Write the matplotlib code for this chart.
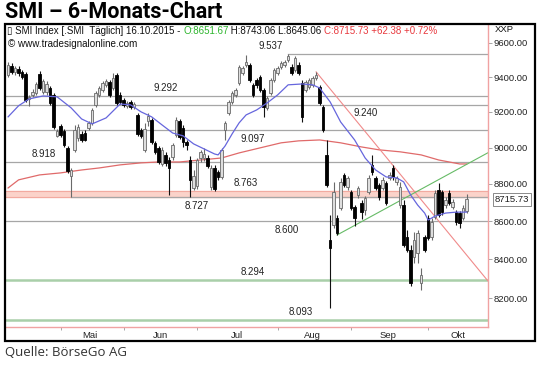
import numpy as np
import matplotlib
matplotlib.use('Agg')
import matplotlib.pyplot as plt
from matplotlib.patches import Rectangle
from matplotlib.ticker import FixedLocator, NullLocator, FuncFormatter

#---------------------------------------------------------------------------------
# SMI daily candles, last 6 months up to 16.10.2015
# index = trading day, 0 = mid April, 131 = 16.10.2015
#---------------------------------------------------------------------------------

opens = [9412, 9465, 9430, 9447, 9430, 9418, 9274, 9297, 9308, 9418,
         9314, 9314, 9337, 9297, 9065, 9121, 9093, 8998, 8844, 8987,
         9053, 9076, 9081, 9110, 9138, 9240, 9297, 9326, 9355, 9372,
         9337, 9412, 9297, 9268, 9234, 9257, 9228, 9183, 9098, 8987,
         9149, 9155, 9026, 8998, 8909, 8959, 8931, 8948, 9070, 9149,
         9110, 9031, 8931, 8778, 8789, 8942, 8942, 8942, 8784, 8887,
         8865, 8838, 9098, 9194, 9257, 9297, 9366, 9424, 9471, 9471,
         9355, 9383, 9401, 9326, 9223, 9308, 9383, 9424, 9459, 9471,
         9500, 9459, 9442, 9471, 9366, 9326, 9343, 9355, 9395, 9343,
         9228, 8959, 8501, 8579, 8616, 8670, 8849, 8784, 8757, 8676,
         8740, 8697, 8659, 8757, 8904, 8833, 8795, 8778, 8805, 8833,
         8887, 8811, 8686, 8686, 8516, 8448, 8412, 8433, 8279, 8516,
         8616, 8516, 8622, 8767, 8757, 8686, 8751, 8676, 8648, 8643,
         8616, 8651.67]
highs = [9488, 9482, 9465, 9465, 9442, 9430, 9297, 9332, 9372, 9436,
         9389, 9378, 9349, 9308, 9104, 9132, 9104, 9009, 8887, 9126,
         9132, 9093, 9098, 9149, 9223, 9320, 9349, 9378, 9389, 9383,
         9424, 9424, 9314, 9280, 9262, 9268, 9257, 9194, 9110, 9138,
         9194, 9166, 9037, 9009, 9003, 8976, 8948, 9026, 9172, 9160,
         9126, 9042, 8953, 8876, 8942, 8987, 8998, 8959, 8904, 8904,
         8876, 8998, 9149, 9268, 9320, 9337, 9471, 9465, 9529, 9482,
         9366, 9395, 9412, 9337, 9291, 9395, 9453, 9465, 9494, 9500,
         9537, 9477, 9524, 9488, 9383, 9383, 9395, 9407, 9430, 9355,
         9240, 9042, 8632, 8811, 8632, 8833, 8860, 8844, 8767, 8686,
         8789, 8713, 8735, 8849, 8959, 8844, 8805, 8838, 8816, 8865,
         8904, 8844, 8811, 8713, 8553, 8475, 8542, 8553, 8355, 8527,
         8632, 8616, 8767, 8805, 8767, 8729, 8767, 8719, 8659, 8654,
         8686, 8743.06]
lows = [9401, 9418, 9412, 9407, 9389, 9257, 9234, 9286, 9297, 9326,
        9303, 9297, 9240, 9104, 9059, 9059, 9003, 8860, 8727, 8976,
        9037, 9031, 9037, 9098, 9126, 9228, 9286, 9314, 9343, 9286,
        9326, 9240, 9245, 9228, 9223, 9217, 9217, 9065, 9053, 8976,
        9121, 9020, 8964, 8909, 8898, 8898, 8740, 8931, 9059, 9048,
        9003, 8987, 8729, 8767, 8773, 8920, 8925, 8887, 8767, 8762,
        8822, 8827, 9042, 9183, 9245, 9286, 9355, 9412, 9459, 9372,
        9286, 9337, 9314, 9172, 9211, 9297, 9372, 9412, 9447, 9459,
        9488, 9412, 9430, 9412, 9143, 9314, 9332, 9343, 9383, 9240,
        9087, 8784, 8153, 8563, 8527, 8659, 8784, 8767, 8659, 8574,
        8724, 8611, 8632, 8746, 8849, 8767, 8713, 8767, 8686, 8822,
        8822, 8795, 8670, 8464, 8438, 8264, 8381, 8381, 8244, 8438,
        8501, 8501, 8611, 8622, 8632, 8670, 8686, 8665, 8579, 8563,
        8606, 8645.06]
closes = [9471, 9430, 9453, 9424, 9401, 9268, 9286, 9314, 9360, 9337,
          9378, 9360, 9251, 9115, 9093, 9070, 9014, 8871, 8876, 9098,
          9115, 9042, 9042, 9138, 9211, 9308, 9337, 9366, 9378, 9297,
          9395, 9251, 9257, 9240, 9251, 9228, 9245, 9076, 9065, 9104,
          9177, 9031, 8976, 8920, 8987, 8915, 8887, 9014, 9155, 9059,
          9031, 9014, 8822, 8844, 8931, 8976, 8964, 8898, 8887, 8773,
          8838, 8987, 9138, 9257, 9308, 9326, 9459, 9453, 9488, 9383,
          9297, 9355, 9326, 9228, 9280, 9383, 9442, 9453, 9482, 9488,
          9524, 9424, 9512, 9424, 9172, 9372, 9383, 9395, 9412, 9251,
          9098, 8795, 8459, 8757, 8537, 8811, 8795, 8833, 8670, 8616,
          8778, 8648, 8724, 8833, 8865, 8778, 8729, 8822, 8697, 8849,
          8838, 8833, 8784, 8475, 8448, 8279, 8501, 8537, 8320, 8448,
          8511, 8595, 8751, 8632, 8648, 8713, 8697, 8702, 8595, 8590,
          8670, 8715.73]

# short moving average (blue) and long moving average (red), read at some days
blue_idx = [0, 3, 6, 10, 14, 18, 21, 24, 28, 32, 35, 38, 41, 44, 47, 50, 53, 56, 59, 60,
            62, 64, 66, 68, 71, 74, 77, 80, 84, 87, 89, 92, 95, 99, 102, 105, 108, 111, 113, 115,
            117, 119, 120, 122, 125, 128, 131]
blue_val = [9172, 9235, 9274, 9291, 9286, 9223, 9160, 9132, 9166, 9245, 9240, 9200, 9172, 9126, 9081, 9065, 9020, 8992, 8964, 8959,
            9009, 9076, 9138, 9183, 9211, 9251, 9297, 9355, 9360, 9355, 9337, 9257, 9143, 9042, 8942, 8876, 8838, 8833, 8811, 8740,
            8686, 8643, 8606, 8627, 8643, 8648, 8648]
red_idx = [0, 3, 9, 15, 21, 26, 32, 38, 43, 49, 55, 61, 66, 72, 78, 83, 89, 95, 101, 106, 112, 118, 123, 129, 131]
red_val = [8778, 8822, 8849, 8860, 8876, 8887, 8904, 8915, 8920, 8920, 8931, 8942, 8970, 8998, 9026, 9037, 9042, 9026,
           9003, 8987, 8976, 8959, 8931, 8909, 8909]

# trend lines (start day, end day) / (start value, end value)
down_trend_idx = [88, 137]
down_trend_val = [9430, 8290]
up_trend_idx = [94, 137]
up_trend_val = [8527, 8970]

# support / resistance levels
levels = [9537, 9292, 9240, 9097, 8918, 8763, 8727, 8600, 8294, 8093]
level_from = [80, 0, 0, 0, 0, 0, 18, 0, 0, 0]
level_label_at = [74.9, 45.1, 102, 70, 10.3, 68, 54, 79.7, 70, 83.7]
level_label_above = [True, True, False, False, True, True, False, False, True, True]
green_levels = [8294, 8093]

price_ticks = [9600, 9400, 9200, 9000, 8800, 8600, 8400, 8200]
month_names = ['Mai', 'Jun', 'Jul', 'Aug', 'Sep', 'Okt']
month_starts = [15, 33, 54, 77, 98, 120]
month_mids = [23.5, 43.5, 65.5, 87, 108.5, 128.5]

header_1 = '\u25af SMI Index [.SMI  T\u00e4glich] 16.10.2015 - '
header_o = 'O:8651.67'
header_hl = ' H:8743.06 L:8645.06 '
header_c = 'C:8715.73 +62.38 +0.72%'

#---------------------------------------------------------------------------------

W, H = 540, 365
fig = plt.figure(figsize=(W / 100, H / 100), dpi=100)
fig.patch.set_facecolor('white')
plt.rcParams['font.family'] = ['Liberation Sans', 'DejaVu Sans']

def fx(px):
    return px / W

def fy(py):
    return 1 - py / H

ax = fig.add_axes([fx(6), fy(327), 482 / W, 302 / H])
ax.set_yscale('log')
ax.set_xlim(-0.6, 137.1)
ax.set_ylim(8056, 9707)

# level lines and pink zone
ax.axhspan(8727, 8763, color='#fbd3ca', zorder=1)
ax.axhline(8763, color='#f2aaa0', lw=0.8, zorder=1)
ax.axhline(8727, color='#f2aaa0', lw=0.8, zorder=1)
for lv, start, lx, above in zip(levels, level_from, level_label_at, level_label_above):
    if lv in green_levels:
        ax.plot([-0.6, 137.1], [lv, lv], color='#a9cfa9', lw=1.8, zorder=1.5)
    elif lv == 8763:
        pass
    else:
        ax.plot([start if start > 0 else -0.6, 137.1], [lv, lv], color='#a6a6a6', lw=0.9, zorder=1.5)
    ax.annotate(f'{lv:,}'.replace(',', '.'), xy=(lx, lv), xytext=(0, 2.2 if above else -2.6),
                textcoords='offset points', ha='center', va='bottom' if above else 'top',
                fontsize=7, color='#222222', zorder=2)

# moving averages and trend lines
ax.plot(red_idx, red_val, color='#e06a6a', lw=0.9, zorder=2)
ax.plot(down_trend_idx, down_trend_val, color='#f08a8a', lw=0.8, zorder=2)
ax.plot(up_trend_idx, up_trend_val, color='#66bb66', lw=0.8, zorder=2)

# candles
o = np.array(opens)
h = np.array(highs)
l = np.array(lows)
c = np.array(closes)
x = np.arange(len(c))
up = c >= o
ax.vlines(x[up], l[up], h[up], color='#6a6a6a', lw=0.8, zorder=3)
ax.vlines(x[~up], l[~up], h[~up], color='#111111', lw=0.8, zorder=3)
ax.bar(x[up], (c - o)[up], bottom=o[up], width=0.75, color='#dedede', edgecolor='#6a6a6a', lw=0.6, zorder=4)
ax.bar(x[~up], (o - c)[~up], bottom=c[~up], width=0.75, color='black', edgecolor='black', lw=0.6, zorder=4)

ax.plot(blue_idx, blue_val, color='#6666dd', lw=0.9, zorder=5)

# axes styling
for side in ['top', 'left']:
    ax.spines[side].set_visible(False)
for side in ['right', 'bottom']:
    ax.spines[side].set_color('#f0a2a2')
    ax.spines[side].set_linewidth(1.0)

ax.yaxis.set_major_locator(FixedLocator(price_ticks))
ax.yaxis.set_minor_locator(NullLocator())
ax.yaxis.set_major_formatter(FuncFormatter(lambda v, p: f'{v:.2f}'))
ax.tick_params(axis='y', which='both', left=False, labelleft=False, right=True, labelright=True,
               length=3, width=0.6, color='#999999', pad=1.2, labelsize=6.8, labelcolor='#222222')

ax.set_xticks(month_starts)
ax.set_xticklabels([])
ax.set_xticks(month_mids, minor=True)
ax.set_xticklabels(month_names, minor=True)
ax.tick_params(axis='x', which='major', length=2.5, width=0.6, color='#999999')
ax.tick_params(axis='x', which='minor', length=0, pad=3, labelsize=6.8, labelcolor='#222222')

# last price tag
ax.annotate('8715.73', xy=(1, closes[-1]), xycoords=('axes fraction', 'data'), xytext=(5, 0),
            textcoords='offset points', ha='left', va='center', fontsize=6.8, color='#222222',
            bbox=dict(boxstyle='square,pad=0.2', fc='white', ec='#777777', lw=0.6), annotation_clip=False)

# chart frame, header lines
fig.patches.append(Rectangle((fx(5), fy(341)), 530 / W, 317 / H, transform=fig.transFigure,
                             fill=False, ec='black', lw=1.6, zorder=10))

t1 = fig.text(fx(7), fy(34), header_1, fontsize=7.0, color='#111111', va='baseline')
t2 = ax.annotate(header_o, xy=(1, 0), xycoords=t1, va='bottom', fontsize=7.0, color='#2db52d')
t3 = ax.annotate(header_hl, xy=(1, 0), xycoords=t2, va='bottom', fontsize=7.0, color='#111111')
t4 = ax.annotate(header_c, xy=(1, 0), xycoords=t3, va='bottom', fontsize=7.0, color='#e8383d')
fig.text(fx(8), fy(44), '\u00a9 www.tradesignalonline.com', fontsize=7.1, color='#111111', va='center')
fig.text(fx(495), fy(30), 'XXP', fontsize=6.8, color='#111111', va='center')

fig.text(fx(5), fy(12), 'SMI \u2013 6-Monats-Chart', fontsize=15.5, fontweight='bold',
         family=['Roboto', 'DejaVu Sans'], color='black', va='center')
fig.text(fx(5), fy(353), 'Quelle: B\u00f6rseGo AG', fontsize=9.5, family=['Open Sans', 'DejaVu Sans'],
         color='#333333', va='center')

plt.savefig('out.png', dpi=100)
